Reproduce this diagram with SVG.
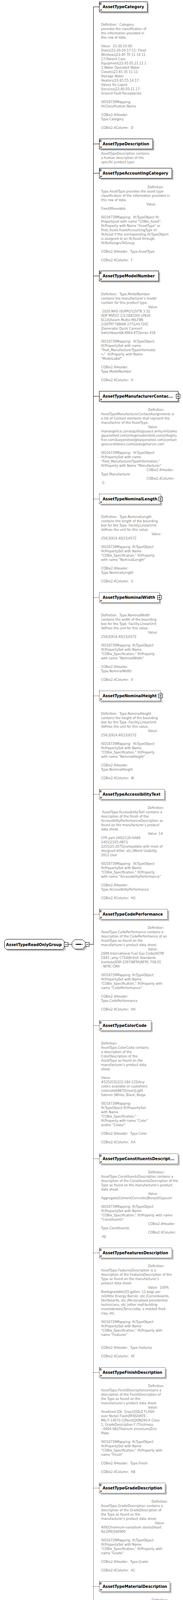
<svg xmlns="http://www.w3.org/2000/svg" xmlns:xlink="http://www.w3.org/1999/xlink" width="469" height="5094" viewBox="0 0 469 5094">
<defs>
<style>
.t{font-family:"DejaVu Sans",Verdana,sans-serif;font-size:9.8px;font-weight:bold;fill:#000}
.a{font-family:"DejaVu Sans",Verdana,sans-serif;font-size:8.1px;fill:#808080}
.bx{fill:#fff;stroke:#000;stroke-width:1}
.opt{stroke-dasharray:2,2}
.sh{fill:#c0c0c0;stroke:none}
.ln{fill:none;stroke:#000;stroke-width:1}
.dl{fill:none;stroke:#000;stroke-width:1;stroke-dasharray:2,2}
</style>
<g id="icDoc"><path d="M1 3.5h5M1 5.5h5M1 7.5h5" fill="none" stroke="#000" stroke-width="1"/></g>
<g id="icRef"><path d="M2 -1.5L5 -4.5" fill="none" stroke="#000" stroke-width="1"/><path d="M6.5 -6L2.8 -5.2L5.7 -2.3Z" fill="#000"/></g>
<g id="icPlus"><rect x="-5" y="-5" width="10" height="10" fill="#fff" stroke="#000" stroke-width="1"/><path d="M-3 0H3M0 -3V3" fill="none" stroke="#000" stroke-width="1"/></g>
</defs>
<rect x="0" y="0" width="469" height="5094" fill="#fff"/>

<g id="connectors">
<path class="ln" d="M239.5 17.5V2417.5"/>
<path class="dl" d="M239.5 2417.5V4817.5"/>
<path class="ln" d="M239.5 17.5H254.5M239.5 368.5H254.5M239.5 443.5H254.5M239.5 706.5H254.5M239.5 1014.5H254.5"/>
<path class="dl" d="M239.5 1277.5H254.5M239.5 1529.5H254.5M239.5 1781.5H254.5M239.5 2033.5H254.5M239.5 2340.5H254.5M239.5 2625.5H254.5M239.5 2966.5H254.5M239.5 3207.5H254.5M239.5 3513.5H254.5M239.5 3809.5H254.5M239.5 4061.5H254.5M239.5 4324.5H254.5M239.5 4565.5H254.5M239.5 4817.5H254.5"/>
<path class="ln" d="M174.5 2417.5H184.5M228.5 2417.5H239.5"/>
</g>

<g id="node-AssetTypeReadOnlyGroup">
<path class="sh" d="M20.5 2408.5H163.5L168.5 2413.5V2429.5L163.5 2434.5H20.5L15.5 2429.5V2413.5Z"/>
<path class="bx" d="M16.5 2404.5H159.5L164.5 2409.5V2425.5L159.5 2430.5H16.5L11.5 2425.5V2409.5Z"/>
<text class="t" x="15.5" y="2421.5">AssetTypeReadOnlyGroup</text>
<rect class="bx" x="164.5" y="2412.5" width="10" height="10"/>
<path class="ln" d="M166.5 2417.5H172.5"/>
</g>

<g id="node-sequence">
<path class="sh" d="M195.5 2409.5H215.5L222.5 2416.5V2426.5L215.5 2433.5H195.5L188.5 2426.5V2416.5Z"/>
<path class="bx" d="M191.5 2405.5H211.5L218.5 2412.5V2422.5L211.5 2429.5H191.5L184.5 2422.5V2412.5Z"/>
<path class="ln" d="M192.5 2417.5H212.5"/>
<rect x="196" y="2416" width="3" height="3" fill="#000"/>
<rect x="200" y="2416" width="3" height="3" fill="#000"/>
<rect x="204" y="2416" width="3" height="3" fill="#000"/>
<rect class="bx" x="218.5" y="2412.5" width="10" height="10"/>
<path class="ln" d="M220.5 2417.5H226.5"/>
</g>

<g id="node-AssetTypeCategory">
<rect class="sh" x="258.5" y="8.5" width="123" height="26"/>
<rect class="bx" x="254.5" y="4.5" width="123" height="26"/>
<use xlink:href="#icDoc" x="254" y="4"/><use xlink:href="#icRef" x="254" y="30"/>
<text class="t" x="263" y="21">AssetTypeCategory</text>
<text class="a" y="66"><tspan x="259">Definition:&#160; Category</tspan><tspan x="259" dy="11">provides the classification of</tspan><tspan x="259" dy="11">the information provided in</tspan><tspan x="259" dy="11">this row of data.</tspan><tspan x="259" dy="22">Value:&#160; 23.30.10.00:</tspan><tspan x="259" dy="11">Doors|23.30-20-17-11: Fixed</tspan><tspan x="259" dy="11">Windows|23-40 70 11 14 11</tspan><tspan x="259" dy="11">17:Patient Care</tspan><tspan x="259" dy="11">Equipment|23.45.05.21.11.1</tspan><tspan x="259" dy="11">1:Water Operated Water</tspan><tspan x="259" dy="11">Closets|23.65 35 11 11:</tspan><tspan x="259" dy="11">Storage Water</tspan><tspan x="259" dy="11">Heaters|23.65.55.14.17:</tspan><tspan x="259" dy="11">Valves for Liquid</tspan><tspan x="259" dy="11">Services|23.80.50.11.17:</tspan><tspan x="259" dy="11">Ground Fault Receptacles</tspan><tspan x="259" dy="22">ISO16739Mapping:</tspan><tspan x="259" dy="11">IfcClassification.Name</tspan><tspan x="259" dy="22">COBie2.4Header:</tspan><tspan x="259" dy="11">Type.Category</tspan><tspan x="259" dy="22">COBie2.4Column:&#160; D</tspan></text>
</g>

<g id="node-AssetTypeDescription">
<rect class="sh" x="258.5" y="359.5" width="137" height="26"/>
<rect class="bx" x="254.5" y="355.5" width="137" height="26"/>
<use xlink:href="#icDoc" x="254" y="355"/><use xlink:href="#icRef" x="254" y="381"/>
<text class="t" x="263" y="372">AssetTypeDescription</text>
<text class="a" y="395.5"><tspan x="259">AssetTypeDescription contains</tspan><tspan x="259" dy="11">a human description of the</tspan><tspan x="259" dy="11">specific product type.</tspan></text>
</g>

<g id="node-AssetTypeAccountingCategory">
<rect class="sh" x="258.5" y="434.5" width="186" height="26"/>
<rect class="bx" x="254.5" y="430.5" width="186" height="26"/>
<use xlink:href="#icDoc" x="254" y="430"/><use xlink:href="#icRef" x="254" y="456"/>
<text class="t" x="263" y="447">AssetTypeAccountingCategory</text>
<text class="a" y="481.5"><tspan x="378">Definition:</tspan><tspan x="259" dy="11">Type.AssetType provides the asset type</tspan><tspan x="259" dy="11">classification of the information provided in</tspan><tspan x="259" dy="11">this row of data.</tspan><tspan x="375.5" dy="11">Value:</tspan><tspan x="259" dy="11">Fixed|Moveable</tspan><tspan x="259" dy="22">ISO16739Mapping:&#160; IfcTypeObject Ifc</tspan><tspan x="259" dy="11">Propertyset with name "COBie_Asset",</tspan><tspan x="259" dy="11">IfcProperty with Name "AssetType" or</tspan><tspan x="259" dy="11">Pset_Asset.AssetAccountingType of</tspan><tspan x="259" dy="11">IfcAsset if the corresponding IfcTypeObject</tspan><tspan x="259" dy="11">is assigned to an IfcAsset through</tspan><tspan x="259" dy="11">IfcRelAssignsToGroup</tspan><tspan x="259" dy="22">COBie2.4Header:&#160; Type.AssetType</tspan><tspan x="259" dy="22">COBie2.4Column:&#160; F</tspan></text>
</g>

<g id="node-AssetTypeModelNumber">
<rect class="sh" x="258.5" y="697.5" width="152" height="26"/>
<rect class="bx" x="254.5" y="693.5" width="152" height="26"/>
<use xlink:href="#icDoc" x="254" y="693"/><use xlink:href="#icRef" x="254" y="719"/>
<text class="t" x="263" y="710">AssetTypeModelNumber</text>
<text class="a" y="756"><tspan x="259">Definition:&#160; Type.ModelNumber</tspan><tspan x="259" dy="11">contains the manufacturer's model</tspan><tspan x="259" dy="11">number for this product type.</tspan><tspan x="379.5" dy="11">Value:</tspan><tspan x="259" dy="11">&#160;1020 MAS (SUPPLY)|2VT8 3 32</tspan><tspan x="259" dy="11">ADP MVOLT 1/3 GEB10IS LP830</tspan><tspan x="259" dy="11">EL14|Axiom Multix M|LF8N</tspan><tspan x="259" dy="11">2/26TRT F8B4W 277|LH1720C</tspan><tspan x="259" dy="11">|Generator Quick Connect</tspan><tspan x="259" dy="11">Switchboard|K-4904-ET|Series 416</tspan><tspan x="259" dy="22">ISO16739Mapping:&#160; IfcTypeObject</tspan><tspan x="259" dy="11">IfcPropertySet with name</tspan><tspan x="259" dy="11">"Pset_ManufacturerTypeInformatio</tspan><tspan x="259" dy="11">n,"&#160; IfcProperty with Name</tspan><tspan x="259" dy="11">"ModelLabel"</tspan><tspan x="259" dy="22">COBie2.4Header:</tspan><tspan x="259" dy="11">Type.ModelNumber</tspan><tspan x="259" dy="22">COBie2.4Column:&#160; H</tspan></text>
</g>

<g id="node-AssetTypeManufacturerContactAssignments">
<rect class="sh" x="258.5" y="1005.5" width="202" height="26"/>
<rect class="bx" x="254.5" y="1001.5" width="202" height="26"/>
<use xlink:href="#icRef" x="254" y="1027"/>
<text class="t" x="263" y="1018">AssetTypeManufacturerContac...</text>
<use xlink:href="#icPlus" x="456.5" y="1014.5"/>
<text class="a" y="1052"><tspan x="379.5">Definition:</tspan><tspan x="259" dy="11">AssetTypeManufacturerContactAssignments is</tspan><tspan x="259" dy="11">a list of Contact elements that reprsent the</tspan><tspan x="259" dy="11">manufactrer of the AssetType.</tspan><tspan x="379.5" dy="11">Value:</tspan><tspan x="259" dy="11">mariangelica.carrasquillo@usace.army.mil|sales</tspan><tspan x="259" dy="11">@panelfold.com|info@modernfold.com|info@hu</tspan><tspan x="259" dy="11">fcor.com|karpensteel@karpensteel.com|contact</tspan><tspan x="259" dy="11">@securalldoors.com|sales@marvin.com</tspan><tspan x="259" dy="22">ISO16739Mapping:&#160; IfcTypeObject</tspan><tspan x="259" dy="11">IfcPropertySet with name</tspan><tspan x="259" dy="11">"Pset_ManufacturerTypeInformation,"</tspan><tspan x="259" dy="11">IfcProperty with Name "Manufacturer"</tspan><tspan x="375.5" dy="11">COBie2.4Header:</tspan><tspan x="259" dy="11">Type.Manufacturer</tspan><tspan x="375.5" dy="11">COBie2.4Column:</tspan><tspan x="259" dy="11">&#160;G</tspan></text>
</g>

<g id="node-AssetTypeNominalLength">
<rect class="sh" x="258.5" y="1268.5" width="157" height="26"/>
<rect class="bx opt" x="254.5" y="1264.5" width="157" height="26"/>
<use xlink:href="#icRef" x="254" y="1290"/>
<text class="t" x="263" y="1281">AssetTypeNominalLength</text>
<use xlink:href="#icPlus" x="411.5" y="1277.5"/>
<text class="a" y="1326"><tspan x="259">Definition:&#160; Type.NominalLength</tspan><tspan x="259" dy="11">contains the length of the bounding</tspan><tspan x="259" dy="11">box for the Type. Facility.LinearUnit</tspan><tspan x="259" dy="11">defines the unit for this value.</tspan><tspan x="388.5" dy="11">Value:</tspan><tspan x="259" dy="11">254|3|914.40|15|4572</tspan><tspan x="259" dy="22">ISO16739Mapping: IfcTypeObject</tspan><tspan x="259" dy="11">IfcPropertySet with Name</tspan><tspan x="259" dy="11">"COBie_Specification," IfcProperty</tspan><tspan x="259" dy="11">with name "NominalLength"</tspan><tspan x="259" dy="22">COBie2.4Header:</tspan><tspan x="259" dy="11">Type.NominalLength</tspan><tspan x="259" dy="22">COBie2.4Column:&#160; U</tspan></text>
</g>

<g id="node-AssetTypeNominalWidth">
<rect class="sh" x="258.5" y="1520.5" width="154" height="26"/>
<rect class="bx opt" x="254.5" y="1516.5" width="154" height="26"/>
<use xlink:href="#icRef" x="254" y="1542"/>
<text class="t" x="263" y="1533">AssetTypeNominalWidth</text>
<use xlink:href="#icPlus" x="408.5" y="1529.5"/>
<text class="a" y="1578"><tspan x="259">Definition:&#160; Type.NominalWidth</tspan><tspan x="259" dy="11">contains the width of the bounding</tspan><tspan x="259" dy="11">box for the Type. Facility.LinearUnit</tspan><tspan x="259" dy="11">defines the unit for this value.</tspan><tspan x="379" dy="11">Value:</tspan><tspan x="259" dy="11">254|3|914.40|15|4572</tspan><tspan x="259" dy="22">ISO16739Mapping: IfcTypeObject</tspan><tspan x="259" dy="11">IfcPropertySet with Name</tspan><tspan x="259" dy="11">"COBie_Specification," IfcProperty</tspan><tspan x="259" dy="11">with name "NominalWidth"</tspan><tspan x="259" dy="22">COBie2.4Header:</tspan><tspan x="259" dy="11">Type.NominalWidth</tspan><tspan x="259" dy="22">COBie2.4Column:&#160; V</tspan></text>
</g>

<g id="node-AssetTypeNominalHeight">
<rect class="sh" x="258.5" y="1772.5" width="157" height="26"/>
<rect class="bx opt" x="254.5" y="1768.5" width="157" height="26"/>
<use xlink:href="#icRef" x="254" y="1794"/>
<text class="t" x="263" y="1785">AssetTypeNominalHeight</text>
<use xlink:href="#icPlus" x="411.5" y="1781.5"/>
<text class="a" y="1830"><tspan x="259">Definition:&#160; Type.NominalHeight</tspan><tspan x="259" dy="11">contains the height of the bounding</tspan><tspan x="259" dy="11">box for the Type. Facility.LinearUnit</tspan><tspan x="259" dy="11">defines the unit for this value.</tspan><tspan x="379" dy="11">Value:</tspan><tspan x="259" dy="11">254|3|914.40|15|4572</tspan><tspan x="259" dy="22">ISO16739Mapping:&#160; IfcTypeObject</tspan><tspan x="259" dy="11">IfcPropertySet with Name</tspan><tspan x="259" dy="11">"COBie_Specification," IfcProperty</tspan><tspan x="259" dy="11">with name "NominalHeight"</tspan><tspan x="259" dy="22">COBie2.4Header:</tspan><tspan x="259" dy="11">Type.NominalHeight</tspan><tspan x="259" dy="22">COBie2.4Column:&#160; W</tspan></text>
</g>

<g id="node-AssetTypeAccessibilityText">
<rect class="sh" x="258.5" y="2024.5" width="167" height="26"/>
<rect class="bx opt" x="254.5" y="2020.5" width="167" height="26"/>
<use xlink:href="#icDoc" x="254" y="2020"/><use xlink:href="#icRef" x="254" y="2046"/>
<text class="t" x="263" y="2037">AssetTypeAccessibilityText</text>
<text class="a" y="2071"><tspan x="378.5">Definition:</tspan><tspan x="259" dy="11">&#160;AssetType.AccessibilityText contains a</tspan><tspan x="259" dy="11">description of the finish of the</tspan><tspan x="259" dy="11">AccessibilityPerformanceDescription as</tspan><tspan x="259" dy="11">found on the manufacturer's product</tspan><tspan x="259" dy="11">data sheet.</tspan><tspan x="379" dy="11">Value: 14</tspan><tspan x="259" dy="11">CFR part 240|2120-AA66</tspan><tspan x="259" dy="11">2401|2105-AB73</tspan><tspan x="259" dy="11">2255|25.2075|compatible with most of</tspan><tspan x="259" dy="11">designed billet, etc.|World Usability</tspan><tspan x="259" dy="11">2012 User</tspan><tspan x="259" dy="22">ISO16739Mapping:&#160; IfcTypeObject</tspan><tspan x="259" dy="11">IfcPropertySet with Name</tspan><tspan x="259" dy="11">"COBie_Specification," IfcProperty</tspan><tspan x="259" dy="11">with name "AccessibilityPerformance"</tspan><tspan x="259" dy="22">COBie2.4Header:</tspan><tspan x="259" dy="11">Type.AccessibilityPerformance</tspan><tspan x="259" dy="22">COBie2.4Column:&#160; AG</tspan></text>
</g>

<g id="node-AssetTypeCodePerformance">
<rect class="sh" x="258.5" y="2331.5" width="175" height="26"/>
<rect class="bx opt" x="254.5" y="2327.5" width="175" height="26"/>
<use xlink:href="#icDoc" x="254" y="2327"/><use xlink:href="#icRef" x="254" y="2353"/>
<text class="t" x="263" y="2344">AssetTypeCodePerformance</text>
<text class="a" y="2378"><tspan x="378.5">Definition:</tspan><tspan x="259" dy="11">AssetType.CodePerformance contains a</tspan><tspan x="259" dy="11">description of the CodePerformance of an</tspan><tspan x="259" dy="11">AssetType as found on the</tspan><tspan x="259" dy="11">manufacturer's product data sheet.</tspan><tspan x="379" dy="11">Value:</tspan><tspan x="259" dy="11">2006 International Fuel Gas Code|ASTM</tspan><tspan x="259" dy="11">C645 ;amp C754|British Standards</tspan><tspan x="259" dy="11">Institute|ESR-3307|NFPA|NFRC 708.01</tspan><tspan x="259" dy="11">- NFRC CMA</tspan><tspan x="259" dy="22">ISO16739Mapping: IfcTypeObject</tspan><tspan x="259" dy="11">IfcPropertySet with Name</tspan><tspan x="259" dy="11">"COBie_Specification," IfcProperty with</tspan><tspan x="259" dy="11">name "CodePerformance"</tspan><tspan x="259" dy="22">COBie2.4Header:</tspan><tspan x="259" dy="11">Type.CodePerformance</tspan><tspan x="259" dy="22">COBie2.4Column:&#160; AH</tspan></text>
</g>

<g id="node-AssetTypeColorCode">
<rect class="sh" x="258.5" y="2616.5" width="133" height="26"/>
<rect class="bx opt" x="254.5" y="2612.5" width="133" height="26"/>
<use xlink:href="#icDoc" x="254" y="2612"/><use xlink:href="#icRef" x="254" y="2638"/>
<text class="t" x="263" y="2629">AssetTypeColorCode</text>
<text class="a" y="2674"><tspan x="259">Definition:</tspan><tspan x="259" dy="11">AssetType.ColorCode contains</tspan><tspan x="259" dy="11">a description of the</tspan><tspan x="259" dy="11">ColorDescription of the</tspan><tspan x="259" dy="11">AssetType as found on the</tspan><tspan x="259" dy="11">manufacturer's product data</tspan><tspan x="259" dy="11">sheet.</tspan><tspan x="259" dy="22">Value:</tspan><tspan x="259" dy="11">#5252C0|222-184-135|Any</tspan><tspan x="259" dy="11">colors available or customers</tspan><tspan x="259" dy="11">colors|deb887|Green|Light</tspan><tspan x="259" dy="11">Salmon |White, Black, Beige</tspan><tspan x="259" dy="22">ISO16739Mapping:</tspan><tspan x="259" dy="11">IfcTypeObject IfcPropertySet</tspan><tspan x="259" dy="11">with Name</tspan><tspan x="259" dy="11">"COBie_Specification,"</tspan><tspan x="259" dy="11">IfcProperty with name "Color"</tspan><tspan x="259" dy="11">and/or "Colour"</tspan><tspan x="259" dy="22">COBie2.4Header:&#160; Type.Color</tspan><tspan x="259" dy="22">COBie2.4Column:&#160; AA</tspan></text>
</g>

<g id="node-AssetTypeConstituentsDescription">
<rect class="sh" x="258.5" y="2957.5" width="202" height="26"/>
<rect class="bx opt" x="254.5" y="2953.5" width="202" height="26"/>
<use xlink:href="#icDoc" x="254" y="2953"/><use xlink:href="#icRef" x="254" y="2979"/>
<text class="t" x="263" y="2970">AssetTypeConstituentsDescript...</text>
<text class="a" y="3004"><tspan x="379.5">Definition:</tspan><tspan x="259" dy="11">AssetType.ConstituentsDescription contains a</tspan><tspan x="259" dy="11">description of the ConstituentsDescription of the</tspan><tspan x="259" dy="11">Type as found on the manufacturer's product</tspan><tspan x="259" dy="11">data sheet.</tspan><tspan x="379.5" dy="11">Value:</tspan><tspan x="259" dy="11">Aggregate|Cement|Concrete|Benzol|Gypsum</tspan><tspan x="259" dy="22">ISO16739Mapping: IfcTypeObject</tspan><tspan x="259" dy="11">IfcPropertySet with Name</tspan><tspan x="259" dy="11">"COBie_Specification," IfcProperty with name</tspan><tspan x="259" dy="11">"Constituents"</tspan><tspan x="379.5" dy="11">COBie2.4Header:</tspan><tspan x="259" dy="11">Type.Constituents</tspan><tspan x="379.5" dy="11">COBie2.4Column:</tspan><tspan x="259" dy="11">&#160;AE</tspan></text>
</g>

<g id="node-AssetTypeFeaturesDescription">
<rect class="sh" x="258.5" y="3198.5" width="186" height="26"/>
<rect class="bx opt" x="254.5" y="3194.5" width="186" height="26"/>
<use xlink:href="#icDoc" x="254" y="3194"/><use xlink:href="#icRef" x="254" y="3220"/>
<text class="t" x="263" y="3211">AssetTypeFeaturesDescription</text>
<text class="a" y="3244"><tspan x="379.5">Definition:</tspan><tspan x="259" dy="11">AssetType.FeaturesDescription is a</tspan><tspan x="259" dy="11">description of the FeaturesDescription of the</tspan><tspan x="259" dy="11">Type as found on the manufacturer's</tspan><tspan x="259" dy="11">product data sheet.</tspan><tspan x="379.5" dy="11">Value:&#160; 100%</tspan><tspan x="259" dy="11">Biodegradable|55 gallon; 12 bags per</tspan><tspan x="259" dy="11">roll|Attic Energy Barrier, etc.|Cornerboards,</tspan><tspan x="259" dy="11">Skirtboards, etc.|Personalized presidential</tspan><tspan x="259" dy="11">technicians, etc.|other reef-building</tspan><tspan x="259" dy="11">invertebrates|Terra-cotta, a molded fired</tspan><tspan x="259" dy="11">clay, etc.</tspan><tspan x="259" dy="22">ISO16739Mapping: IfcTypeObject</tspan><tspan x="259" dy="11">IfcPropertySet with Name</tspan><tspan x="259" dy="11">"COBie_Specification," IfcProperty with</tspan><tspan x="259" dy="11">name "Features"</tspan><tspan x="259" dy="33">COBie2.4Header:&#160; Type.Features</tspan><tspan x="259" dy="22">COBie2.4Column:&#160; AF</tspan></text>
</g>

<g id="node-AssetTypeFinishDescription">
<rect class="sh" x="258.5" y="3504.5" width="169" height="26"/>
<rect class="bx opt" x="254.5" y="3500.5" width="169" height="26"/>
<use xlink:href="#icDoc" x="254" y="3500"/><use xlink:href="#icRef" x="254" y="3526"/>
<text class="t" x="263" y="3517">AssetTypeFinishDescription</text>
<text class="a" y="3551"><tspan x="379.5">Definition:</tspan><tspan x="259" dy="11">AssetType.FinishDescriptioncontains a</tspan><tspan x="259" dy="11">description of the FinishDescription of</tspan><tspan x="259" dy="11">the Type as found on the</tspan><tspan x="259" dy="11">manufacturer's product data sheet.</tspan><tspan x="379.5" dy="11">Value:</tspan><tspan x="259" dy="11">Anodized (Dk. Gray)|GOLD FLASH</tspan><tspan x="259" dy="11">over Nickel Flash|PASSIVATE -</tspan><tspan x="259" dy="11">MIL-F-14072-C|Paint|QQN290-A Class</tspan><tspan x="259" dy="11">1, GradeDescription F (Thickness</tspan><tspan x="259" dy="11">-.0004-SB)|Titanium zirconium|Zinc</tspan><tspan x="259" dy="11">Plate</tspan><tspan x="259" dy="22">ISO16739Mapping: IfcTypeObject</tspan><tspan x="259" dy="11">IfcPropertySet with Name</tspan><tspan x="259" dy="11">"COBie_Specification," IfcProperty with</tspan><tspan x="259" dy="11">name "Finish"</tspan><tspan x="259" dy="22">COBie2.4Header:&#160; Type.Finish</tspan><tspan x="259" dy="22">COBie2.4Column:&#160; AB</tspan></text>
</g>

<g id="node-AssetTypeGradeDescription">
<rect class="sh" x="258.5" y="3800.5" width="169" height="26"/>
<rect class="bx opt" x="254.5" y="3796.5" width="169" height="26"/>
<use xlink:href="#icDoc" x="254" y="3796"/><use xlink:href="#icRef" x="254" y="3822"/>
<text class="t" x="263" y="3813">AssetTypeGradeDescription</text>
<text class="a" y="3847"><tspan x="388.5">Definition:</tspan><tspan x="259" dy="11">AssetType.GradeDescription contains a</tspan><tspan x="259" dy="11">description of the GradeDescription of</tspan><tspan x="259" dy="11">the Type as found on the</tspan><tspan x="259" dy="11">manufacturer's product data sheet.</tspan><tspan x="397" dy="11">Value:</tspan><tspan x="259" dy="11">409|Chromium-vanadium steels|Heart</tspan><tspan x="259" dy="11">B|LDPE|S40900</tspan><tspan x="259" dy="22">ISO16739Mapping: IfcTypeObject</tspan><tspan x="259" dy="11">IfcPropertySet with Name</tspan><tspan x="259" dy="11">"COBie_Specification," IfcProperty with</tspan><tspan x="259" dy="11">name "Grade"</tspan><tspan x="259" dy="22">COBie2.4Header:&#160; Type.Grade</tspan><tspan x="259" dy="22">COBie2.4Column:&#160; AC</tspan></text>
</g>

<g id="node-AssetTypeMaterialDescription">
<rect class="sh" x="258.5" y="4052.5" width="181" height="26"/>
<rect class="bx opt" x="254.5" y="4048.5" width="181" height="26"/>
<use xlink:href="#icDoc" x="254" y="4048"/><use xlink:href="#icRef" x="254" y="4074"/>
<text class="t" x="263" y="4065">AssetTypeMaterialDescription</text>
<text class="a" y="4099"><tspan x="388.5">Definition:</tspan><tspan x="259" dy="11">AssetType.MaterialDescription contains a</tspan><tspan x="259" dy="11">description of the MaterialDescription of</tspan><tspan x="259" dy="11">the Type as found on the manufacturer's</tspan><tspan x="259" dy="11">product data sheet.</tspan><tspan x="388.5" dy="11">Value:</tspan><tspan x="259" dy="11">100% Polyester</tspan><tspan x="259" dy="11">|Bamboo|Fiberglass|Plywood|Water-Resis</tspan><tspan x="259" dy="11">tant Gypsum Backing Board</tspan><tspan x="259" dy="22">ISO16739Mapping:&#160; IfcTypeObject</tspan><tspan x="259" dy="11">IfcPropertySet with Name</tspan><tspan x="259" dy="11">"COBie_Specification," IfcProperty with</tspan><tspan x="259" dy="11">name "Material"</tspan><tspan x="259" dy="22">COBie2.4Header:&#160; Type.Material</tspan><tspan x="259" dy="22">COBie2.4Column:&#160; AD</tspan></text>
</g>

<g id="node-AssetTypeShapeDescription">
<rect class="sh" x="258.5" y="4315.5" width="171" height="26"/>
<rect class="bx opt" x="254.5" y="4311.5" width="171" height="26"/>
<use xlink:href="#icDoc" x="254" y="4311"/><use xlink:href="#icRef" x="254" y="4337"/>
<text class="t" x="263" y="4328">AssetTypeShapeDescription</text>
<text class="a" y="4362"><tspan x="379.5">Definition:</tspan><tspan x="259" dy="11">AssetType.ShapeDescription contains a</tspan><tspan x="259" dy="11">description of the ShapeDescription of</tspan><tspan x="259" dy="11">the Type as found on the</tspan><tspan x="259" dy="11">manufacturer's product data sheet.</tspan><tspan x="379.5" dy="11">Value:</tspan><tspan x="259" dy="11">Cube|Oblong|Round|Square</tspan><tspan x="259" dy="22">ISO16739Mapping:&#160; IfcTypeObject</tspan><tspan x="259" dy="11">IfcPropertySet with Name</tspan><tspan x="259" dy="11">"COBie_Specification," IfcProperty with</tspan><tspan x="259" dy="11">name "Shape"</tspan><tspan x="259" dy="22">COBie2.4Header:&#160; Type.Shape</tspan><tspan x="259" dy="22">COBie2.4Column:&#160; Y</tspan></text>
</g>

<g id="node-AssetTypeSizeDescription">
<rect class="sh" x="258.5" y="4556.5" width="156" height="26"/>
<rect class="bx opt" x="254.5" y="4552.5" width="156" height="26"/>
<use xlink:href="#icDoc" x="254" y="4552"/><use xlink:href="#icRef" x="254" y="4578"/>
<text class="t" x="263" y="4569">AssetTypeSizeDescription</text>
<text class="a" y="4614"><tspan x="259">Definition:</tspan><tspan x="259" dy="11">AssetType.SizeDescription contains a</tspan><tspan x="259" dy="11">description of the Size of the Type as</tspan><tspan x="259" dy="11">found on the manufacturer's product</tspan><tspan x="259" dy="11">data sheet.</tspan><tspan x="379.5" dy="11">Value:</tspan><tspan x="259" dy="11">Small|Medium|L|Large</tspan><tspan x="259" dy="22">ISO16739Mapping:&#160; IfcTypeObject</tspan><tspan x="259" dy="11">IfcPropertySet with Name</tspan><tspan x="259" dy="11">"COBie_Specification," IfcProperty</tspan><tspan x="259" dy="11">with name "Size"</tspan><tspan x="259" dy="22">COBie2.4Header:&#160; Type.Size</tspan><tspan x="259" dy="22">COBie2.4Column:&#160; Z</tspan></text>
</g>

<g id="node-AssetTypeSustainabilityPerformanceDescription">
<rect class="sh" x="258.5" y="4808.5" width="204" height="26"/>
<rect class="bx opt" x="254.5" y="4804.5" width="204" height="26"/>
<use xlink:href="#icDoc" x="254" y="4804"/><use xlink:href="#icRef" x="254" y="4830"/>
<text class="t" x="263" y="4821">AssetTypeSustainabilityPerfor...</text>
<text class="a" y="4855"><tspan x="379.5">Definition:</tspan><tspan x="259" dy="11">AssetType.SustainabilityPerformanceDescriptio</tspan><tspan x="259" dy="11">n contains a description of the</tspan><tspan x="259" dy="11">SustainabilityPerformanceDescription of the</tspan><tspan x="259" dy="11">Type as found on the manufacturer's product</tspan><tspan x="259" dy="11">data sheet.</tspan><tspan x="379.5" dy="11">Value:&#160; 3 GHG</tspan><tspan x="259" dy="11">emissions in absolute terms|CDPH</tspan><tspan x="259" dy="11">Standard|Electronic Product Environmental</tspan><tspan x="259" dy="11">Assessment Tool |Modified ASTM D 1037</tspan><tspan x="259" dy="11">Procedure|National Environmental Policy Act</tspan><tspan x="259" dy="11">1969|post-consumer 53%, pre-consumer 8%</tspan><tspan x="259" dy="22">ISO16739Mapping: IfcTypeObject</tspan><tspan x="259" dy="11">IfcPropertySet with Name</tspan><tspan x="259" dy="11">"COBie_Specification," IfcProperty with name</tspan><tspan x="259" dy="11">"SustainabilityPerformance"</tspan><tspan x="379.5" dy="11">COBie2.4Header:</tspan><tspan x="259" dy="11">Type.SustainabilityPerformance</tspan><tspan x="379.5" dy="11">COBie2.4Column:</tspan><tspan x="259" dy="11">&#160;AI</tspan></text>
</g>
</svg>
